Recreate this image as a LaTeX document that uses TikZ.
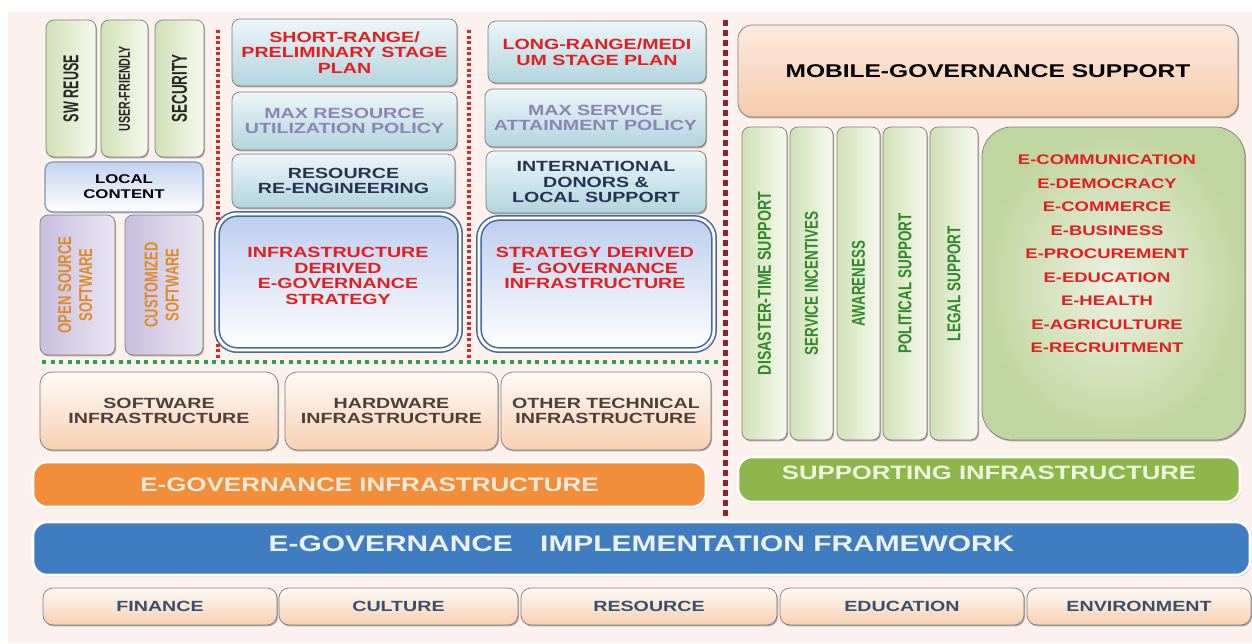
\documentclass[tikz,border=0pt]{standalone}
\usepackage{fontspec}
\setmainfont[FakeStretch=1.33]{Liberation Sans}
\newfontfamily\vfont{Liberation Sans}
\usetikzlibrary{shadows}

% шаг сетки: 1px
\newlength{\pxu}
\setlength{\pxu}{0.02cm}

% повернутая подпись: длина, высота букв, текст
\newcommand{\vlabel}[3]{\rotatebox{90}{\resizebox{#1\pxu}{#2\pxu}{\vfont\bfseries #3}}}
\newcommand{\vpair}[4]{\rotatebox{90}{\begin{tabular}{@{}c@{}}
  \resizebox{#1\pxu}{13\pxu}{\vfont\bfseries #3}\\
  \resizebox{#2\pxu}{13\pxu}{\vfont\bfseries #4}
\end{tabular}}}

\definecolor{bgpeach}{RGB}{252,241,236}
\definecolor{edgegray}{RGB}{125,125,125}
\definecolor{egred}{RGB}{228,30,30}
\definecolor{lilac}{RGB}{140,132,178}
\definecolor{navy}{RGB}{38,52,82}
\definecolor{brownish}{RGB}{78,62,60}
\definecolor{slate}{RGB}{58,78,110}
\definecolor{leaf}{RGB}{48,138,44}
\definecolor{amber}{RGB}{222,138,38}
\definecolor{egorange}{RGB}{242,141,58}
\definecolor{egblue}{RGB}{64,124,192}
\definecolor{eggreen}{RGB}{141,182,75}
\definecolor{frameblue}{RGB}{70,105,160}
\definecolor{dotred}{RGB}{220,35,40}
\definecolor{dotgreen}{RGB}{40,160,80}
\definecolor{dotmaroon}{RGB}{140,35,50}
\definecolor{sproutL}{RGB}{208,225,182}
\definecolor{sproutR}{RGB}{246,249,238}
\definecolor{localT}{RGB}{195,212,240}
\definecolor{lilacL}{RGB}{200,190,222}
\definecolor{lilacR}{RGB}{234,230,242}
\definecolor{planT}{RGB}{236,246,249}
\definecolor{planB}{RGB}{178,212,222}
\definecolor{stratT}{RGB}{188,206,238}
\definecolor{peachT}{RGB}{255,250,246}
\definecolor{peachB}{RGB}{247,208,178}
\definecolor{mobT}{RGB}{253,234,222}
\definecolor{mobB}{RGB}{245,203,172}
\definecolor{eIn}{RGB}{236,242,226}
\definecolor{eOut}{RGB}{192,214,160}
\definecolor{creamtext}{RGB}{250,236,220}
\definecolor{bluetext}{RGB}{235,242,250}
\definecolor{greentext}{RGB}{238,245,225}

\begin{document}
\begin{tikzpicture}[
  x=0.02cm,
  y=-0.02cm,
  line cap=round,
  line join=round,
  frame at/.style n args={4}{
    minimum width={(#3-#1)*\pxu},
    minimum height={(#4-#2)*\pxu},
    at={({(#1+#3)/2},{(#2+#4)/2})}
  },
  blk/.style={
    inner sep=0pt, align=center,
    rounded corners=8\pxu,
    draw=edgegray, line width=0.4pt,
    drop shadow={shadow xshift=0.6pt, shadow yshift=-0.8pt,
      opacity=0.3, fill=black}
  },
  txt/.style={font=\bfseries\fontsize{8.4}{8.8}\selectfont},
  sprout/.style={blk, left color=sproutL, right color=sproutR,
    text=black!85, font=\bfseries},
  localbox/.style={blk, draw=frameblue!70, line width=0.7pt,
    top color=localT, bottom color=white,
    font=\bfseries\fontsize{7.2}{8.5}\selectfont},
  lilacbox/.style={blk, left color=lilacL, right color=lilacR, text=amber,
    font=\bfseries\fontsize{8}{11.9}\selectfont},
  planbox/.style={blk, txt, top color=planT, bottom color=planB},
  plantext/.style={inner sep=0pt, align=center, txt},
  stratbox/.style={blk, rounded corners=20\pxu, draw=frameblue,
    line width=0.9pt, double=white, double distance=1.6pt,
    top color=stratT, bottom color=white},
  peachbox/.style={blk, txt, rounded corners=12\pxu,
    top color=peachT, bottom color=peachB, text=brownish},
  mobilebox/.style={blk, rounded corners=14\pxu,
    top color=mobT, bottom color=mobB,
    font=\bfseries\fontsize{10.5}{12}\selectfont},
  ebox/.style={blk, rounded corners=30\pxu, inner color=eIn, outer color=eOut},
  etext/.style={inner sep=0pt, text=egred,
    font=\bfseries\fontsize{7.9}{9}\selectfont},
  band/.style={blk, rounded corners=14\pxu, draw=white, line width=1.5pt},
  footbox/.style={blk, txt, rounded corners=10\pxu,
    top color=peachT, bottom color=peachB, text=slate},
  reddots/.style={draw=dotred, line cap=butt, line width=3.4\pxu,
    dash pattern=on 3\pxu off 2.5\pxu},
  greendots/.style={draw=dotgreen, line cap=butt, line width=3.5\pxu,
    dash pattern=on 4\pxu off 4.5\pxu},
  maroondots/.style={draw=dotmaroon, line cap=butt, line width=5\pxu,
    dash pattern=on 6\pxu off 4\pxu}
]
  \useasboundingbox (0,0) rectangle (1252,643);

  % Фон
  \fill[bgpeach] (8,12) rectangle (1252,643);

  % Разделители
  \coordinate (R1a) at (218,30);
  \coordinate (R1b) at (218,360);
  \coordinate (R2a) at (469,30);
  \coordinate (R2b) at (469,360);
  \coordinate (Ga) at (42,362);
  \coordinate (Gb) at (722,362);
  \coordinate (Ma) at (725,20);
  \coordinate (Mb) at (725,517);

  \draw[reddots] (R1a) -- (R1b);
  \draw[reddots] (R2a) -- (R2b);
  \draw[greendots] (Ga) -- (Gb);
  \draw[maroondots] (Ma) -- (Mb);

  % Программное обеспечение
  \node[sprout, frame at={46}{20}{96}{157}] (swreuse)
    {\vlabel{67}{15}{SW REUSE}};
  \node[sprout, frame at={101}{20}{148}{157}] (userfr)
    {\vlabel{85}{11}{USER-FRIENDLY}};
  \node[sprout, frame at={155}{20}{204}{157}] (secur)
    {\vlabel{68}{15}{SECURITY}};
  \node[localbox, frame at={45}{162}{203}{212}] (local)
    {LOCAL\\CONTENT};
  \node[lilacbox, frame at={40}{215}{115}{355}] (opensrc)
    {\vpair{97}{73}{OPEN SOURCE}{SOFTWARE}};
  \node[lilacbox, frame at={125}{215}{203}{355}] (custom)
    {\vpair{85}{73}{CUSTOMIZED}{SOFTWARE}};

  % Краткосрочный план
  \node[planbox, text=egred, frame at={232}{19}{457}{86}] (shortr)
    {SHORT-RANGE/\\PRELIMINARY STAGE\\PLAN};
  \node[planbox, text=lilac, frame at={232}{92}{457}{150}] (maxres)
    {MAX RESOURCE\\UTILIZATION POLICY};
  \node[planbox, text=navy, frame at={232}{154}{455}{208}] (reeng)
    {RESOURCE\\RE-ENGINEERING};
  \node[stratbox, frame at={217}{214}{460}{350}] (infder) {};
  \node[plantext, text=egred] (infder-t) at (338,276)
    {INFRASTRUCTURE\\DERIVED\\E-GOVERNANCE\\STRATEGY};

  % Долгосрочный план
  \node[planbox, text=egred, frame at={488}{21}{706}{83}] (longr)
    {LONG-RANGE/MEDI\\UM STAGE PLAN};
  \node[planbox, text=lilac, frame at={485}{89}{706}{147}] (maxserv)
    {MAX SERVICE\\ATTAINMENT POLICY};
  \node[planbox, text=navy, frame at={486}{151}{706}{213}] (intl)
    {INTERNATIONAL\\DONORS \&\\LOCAL SUPPORT};
  \node[stratbox, frame at={479}{218}{714}{350}] (stratder) {};
  \node[plantext, text=egred] (stratder-t) at (595,268)
    {STRATEGY DERIVED\\E- GOVERNANCE\\INFRASTRUCTURE};

  % Поддержка
  \node[mobilebox, frame at={738}{25}{1238}{117}] (mobile)
    {MOBILE-GOVERNANCE SUPPORT};
  \foreach \lbl/\xa/\xb/\len [count=\i] in {
      DISASTER-TIME SUPPORT/742/787/183,
      SERVICE INCENTIVES/790/833/144,
      AWARENESS/837/880/85,
      POLITICAL SUPPORT/883/927/140,
      LEGAL SUPPORT/930/978/115}
    \node[sprout, text=leaf, frame at={\xa}{127}{\xb}{440}] (supp\i)
      {\vlabel{\len}{13}{\lbl}};

  \node[ebox, frame at={982}{127}{1245}{440}] (ebox) {};
  \foreach \ename [count=\i from 0] in {
      E-COMMUNICATION, E-DEMOCRACY, E-COMMERCE, E-BUSINESS,
      E-PROCUREMENT, E-EDUCATION, E-HEALTH, E-AGRICULTURE,
      E-RECRUITMENT}
    \node[etext] (e\i) at (1107,160+23.5*\i) {\ename};

  \node[band, fill=eggreen, text=greentext,
    font=\bfseries\fontsize{11}{12}\selectfont,
    frame at={738}{457}{1240}{502}] (suppinf)
    {\raisebox{14\pxu}{SUPPORTING INFRASTRUCTURE}};

  % Инфраструктура
  \node[peachbox, frame at={40}{372}{278}{450}] (swinf)
    {SOFTWARE\\INFRASTRUCTURE};
  \node[peachbox, frame at={285}{372}{498}{450}] (hwinf)
    {HARDWARE\\INFRASTRUCTURE};
  \node[peachbox, frame at={501}{372}{711}{450}] (othinf)
    {OTHER TECHNICAL\\INFRASTRUCTURE};
  \node[band, fill=egorange, text=creamtext,
    font=\bfseries\fontsize{11.1}{12}\selectfont,
    frame at={33}{462}{706}{507}] (egovinf)
    {E-GOVERNANCE INFRASTRUCTURE};

  % Основа
  \node[band, fill=egblue, text=bluetext,
    font=\bfseries\fontsize{12.8}{14}\selectfont,
    frame at={33}{522}{1250}{575}] (frame)
    {\raisebox{9\pxu}{E-GOVERNANCE\hspace{19\pxu} IMPLEMENTATION FRAMEWORK}};
  \foreach \lbl/\xa/\xb [count=\i] in {
      FINANCE/43/277, CULTURE/279/518, RESOURCE/521/777,
      EDUCATION/780/1024, ENVIRONMENT/1027/1251}
    \node[footbox, frame at={\xa}{588}{\xb}{625}] (foot\i) {\lbl};
\end{tikzpicture}
\end{document}
